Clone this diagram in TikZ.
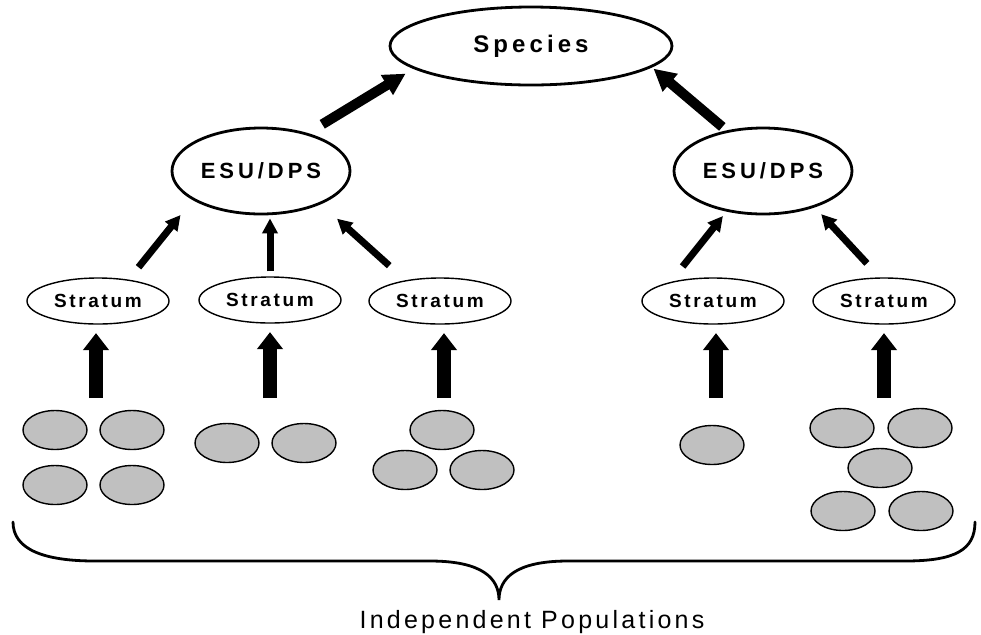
\documentclass[tikz,border=0pt]{standalone}
\usepackage{fontspec}
\newfontfamily\speciesfont[LetterSpace=17]{Liberation Sans Bold}
\newfontfamily\esufont[LetterSpace=18]{Liberation Sans Bold}
\newfontfamily\stratumfont[LetterSpace=14]{Liberation Sans Bold}
\newfontfamily\notefont[LetterSpace=13]{Liberation Sans}
\usetikzlibrary{arrows.meta,shapes.geometric}
\definecolor{popgray}{RGB}{192,192,192}

\begin{document}
\begin{tikzpicture}[x=0.5pt, y=-0.5pt,
  every node/.style={inner sep=0pt},
  species/.style={ellipse, draw, line width=1.4pt, minimum width=141pt, minimum height=39pt,
    font=\speciesfont\fontsize{12pt}{13pt}\selectfont},
  esu/.style={ellipse, draw, line width=1.4pt, minimum width=89pt, minimum height=43pt,
    font=\esufont\fontsize{11pt}{12pt}\selectfont},
  stratum/.style={ellipse, draw, line width=0.7pt, fill=white, minimum width=71pt, minimum height=23pt,
    font=\stratumfont\fontsize{9.5pt}{10pt}\selectfont},
  pop/.style={ellipse, draw, line width=0.7pt, fill=popgray, minimum width=32pt, minimum height=19.5pt},
  bigarrow/.style={line width=5pt, -{Triangle[length=11pt, width=11pt]}},
  midarrow/.style={line width=3.5pt, -{Triangle[length=7.5pt, width=7.5pt]}},
  fatarrow/.style={line width=7pt, -{Triangle[length=8.5pt, width=12.5pt]}}]
  \useasboundingbox (0,0) rectangle (981,634);

  \node[species] (species) at (531,46) {Species};
  \node[esu] (esuL) at (261,171) {ESU/DPS};
  \node[esu] (esuR) at (763,171) {ESU/DPS};

  \node[stratum] (s1) at (98,301) {Stratum};
  \node[stratum] (s2) at (270,300) {Stratum};
  \node[stratum] (s3) at (440,301) {Stratum};
  \node[stratum] (s4) at (713,301) {Stratum};
  \node[stratum] (s5) at (884,301) {Stratum};

  \draw[bigarrow, shorten <=8.4pt, shorten >=4.6pt] (esuL.39) -- (species.191.7);
  \draw[bigarrow, shorten <=2.7pt, shorten >=1pt] (esuR.132.4) -- (species.350.9);

  \draw[midarrow, shorten <=7.9pt, shorten >=9.6pt] (s1.35) -- (esuL.203.6);
  \draw[midarrow, shorten <=2.5pt, shorten >=1.5pt] (s2.north) -- (s2.north |- esuL.south);
  \draw[midarrow, shorten <=10.9pt, shorten >=10.8pt] (s3.149.3) -- (esuL.331.7);
  \draw[midarrow, shorten <=9.9pt, shorten >=2.8pt] (s4.156.4) -- (esuR.228.9);
  \draw[midarrow, shorten <=9.5pt, shorten >=4.6pt] (s5.100.6) -- (esuR.325.3);

  \coordinate (t1) at (96,398);
  \coordinate (t2) at (270,398);
  \coordinate (t3) at (444,398);
  \coordinate (t4) at (716,398);
  \coordinate (t5) at (884,398);
  \draw[fatarrow, shorten >=4.2pt] (t1) -- (t1 |- s1.south);
  \draw[fatarrow, shorten >=4.2pt] (t2) -- (t2 |- s2.south);
  \draw[fatarrow, shorten >=4.2pt] (t3) -- (t3 |- s3.south);
  \draw[fatarrow, shorten >=4.2pt] (t4) -- (t4 |- s4.south);
  \draw[fatarrow, shorten >=4.2pt] (t5) -- (t5 |- s5.south);

  \node[pop] (p11) at (55,430) {};
  \node[pop] (p12) at (132,430) {};
  \node[pop] (p13) at (55,485) {};
  \node[pop] (p14) at (132,485) {};

  \node[pop] (p21) at (227,443) {};
  \node[pop] (p22) at (304,443) {};

  \node[pop] (p31) at (442,430) {};
  \node[pop] (p32) at (405,470) {};
  \node[pop] (p33) at (482,470) {};

  \node[pop] (p41) at (712,445) {};

  \node[pop] (p51) at (842,428) {};
  \node[pop] (p52) at (920,428) {};
  \node[pop] (p53) at (880,468) {};
  \node[pop] (p54) at (843,511) {};
  \node[pop] (p55) at (921,511) {};

  \draw[line width=1.4pt, line cap=round] (13,522) .. controls (13,550) and (45,561) .. (95,561)
    -- (430,561) .. controls (482,561) and (499,578) .. (499,600)
    .. controls (499,578) and (516,561) .. (568,561)
    -- (905,561) .. controls (955,561) and (975,550) .. (975,522);

  \node[font=\notefont\fontsize{12.5pt}{13pt}\selectfont, anchor=base] (popsLabel) at (532,628) {Independent Populations};
\end{tikzpicture}
\end{document}
